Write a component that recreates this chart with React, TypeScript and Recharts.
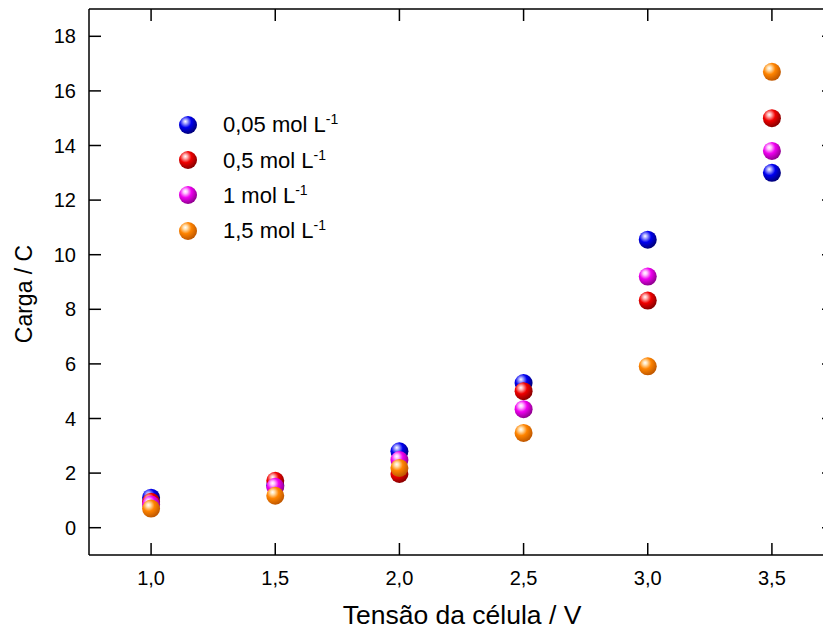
import { ScatterChart, Scatter, XAxis, YAxis, Legend } from 'recharts';

const voltage = [1.0, 1.5, 2.0, 2.5, 3.0, 3.5];
const c005 = [1.1, 1.55, 2.8, 5.3, 10.55, 13.0];
const c05 = [0.95, 1.72, 1.97, 5.0, 8.32, 15.0];
const c1 = [0.85, 1.5, 2.48, 4.34, 9.2, 13.8];
const c15 = [0.7, 1.17, 2.19, 3.47, 5.91, 16.7];

const xTicks = [1.0, 1.5, 2.0, 2.5, 3.0, 3.5];
const yTicks = [0, 2, 4, 6, 8, 10, 12, 14, 16, 18];

const series = [
  { id: 'blue', label: '0,05 mol L', values: c005, light: '#a8a8ff', color: '#0000f0', dark: '#00007a' },
  { id: 'red', label: '0,5 mol L', values: c05, light: '#ffb0b0', color: '#f00000', dark: '#8a0000' },
  { id: 'mag', label: '1 mol L', values: c1, light: '#ffc0ff', color: '#f000f0', dark: '#900090' },
  { id: 'orange', label: '1,5 mol L', values: c15, light: '#ffe0b0', color: '#ff8400', dark: '#c05800' },
];

const FONT = '"Liberation Sans", Arial, sans-serif';
const R = 9;
const TICK = 12; // inward tick length

function Grad({ s, prefix }: { s: (typeof series)[number]; prefix: string }) {
  return (
    <radialGradient id={`${prefix}-${s.id}`} cx="0.38" cy="0.35" r="0.65" fx="0.35" fy="0.3">
      <stop offset="0%" stopColor="#ffffff" />
      <stop offset="18%" stopColor={s.light} />
      <stop offset="50%" stopColor={s.color} />
      <stop offset="100%" stopColor={s.dark} />
    </radialGradient>
  );
}

const fmt = (v: number) => v.toFixed(1).replace('.', ',');

// tick text: recharts puts x/y at the inner end of the (negative size) tick line
const BottomTick = (props: any) => {
  const { x, y, payload } = props;
  return (
    <text x={x} y={y + TICK + 30} textAnchor="middle" fontSize={20} fontFamily={FONT} fill="#000">
      {fmt(payload.value)}
    </text>
  );
};

const LeftTick = (props: any) => {
  const { x, y, payload } = props;
  return (
    <text x={x - TICK - 13} y={y + 7} textAnchor="end" fontSize={20} fontFamily={FONT} fill="#000">
      {payload.value}
    </text>
  );
};

const NoLabel = () => <g />;

const lineStyle = { stroke: '#000', strokeWidth: 1.5 };

function LegendBox() {
  return (
    <div style={{ fontFamily: FONT, fontSize: 22, color: '#000', lineHeight: 1 }}>
      {series.map((s) => (
        <div key={s.id} style={{ display: 'flex', alignItems: 'center', height: 35.3 }}>
          <svg width={18} height={18} style={{ marginRight: 26 }}>
            <defs>
              <Grad s={s} prefix="lg" />
            </defs>
            <circle cx={9} cy={9} r={R} fill={`url(#lg-${s.id})`} />
          </svg>
          <span>
            {s.label}
            <sup style={{ fontSize: 14 }}>-1</sup>
          </span>
        </div>
      ))}
    </div>
  );
}

export default function App() {
  const data = series.map((s) => s.values.map((v, i) => ({ x: voltage[i], y: v })));

  return (
    <div style={{ position: 'absolute', left: 0, top: 0, width: 823, height: 632, overflow: 'hidden', background: '#fff' }}>
      <ScatterChart width={840} height={632} margin={{ top: 8, right: 5, left: 0, bottom: 0 }}>
        <defs>
          {series.map((s) => (
            <Grad key={s.id} s={s} prefix="g" />
          ))}
        </defs>
        <XAxis
          type="number"
          dataKey="x"
          domain={[0.75, 3.75]}
          ticks={xTicks}
          allowDataOverflow
          height={77}
          tickSize={-TICK}
          tickMargin={0}
          tickLine={lineStyle}
          axisLine={lineStyle}
          tick={BottomTick}
          interval={0}
          label={{
            content: () => (
              <text x={462} y={624} textAnchor="middle" fontSize={26.5} fontFamily={FONT} fill="#000">
                Tensão da célula / V
              </text>
            ),
          }}
        />
        <XAxis
          xAxisId="top"
          orientation="top"
          type="number"
          dataKey="x"
          domain={[0.75, 3.75]}
          ticks={xTicks}
          allowDataOverflow
          height={1}
          tickSize={-TICK}
          tickLine={lineStyle}
          axisLine={lineStyle}
          tick={NoLabel}
          interval={0}
        />
        <YAxis
          type="number"
          dataKey="y"
          domain={[-1, 19]}
          ticks={yTicks}
          allowDataOverflow
          width={89}
          tickSize={-TICK}
          tickMargin={0}
          tickLine={lineStyle}
          axisLine={lineStyle}
          tick={LeftTick}
          interval={0}
          label={{
            content: () => (
              <text
                x={32}
                y={294}
                transform="rotate(-90 32 294)"
                textAnchor="middle"
                fontSize={23}
                fontFamily={FONT}
                fill="#000"
              >
                Carga / C
              </text>
            ),
          }}
        />
        <YAxis
          yAxisId="right"
          orientation="right"
          type="number"
          dataKey="y"
          domain={[-1, 19]}
          ticks={yTicks}
          allowDataOverflow
          width={1}
          tickSize={-TICK}
          tickLine={lineStyle}
          axisLine={lineStyle}
          tick={NoLabel}
          interval={0}
        />
        <Legend
          layout="vertical"
          verticalAlign="middle"
          align="center"
          wrapperStyle={{ position: 'absolute', left: 179, top: 107, width: 220 }}
          content={() => <LegendBox />}
        />
        {/* invisible series so the top/right frame axes get a scale and draw their ticks */}
        <Scatter
          data={data[0]}
          xAxisId="top"
          yAxisId="right"
          isAnimationActive={false}
          legendType="none"
          shape={() => <g />}
        />
        {series.map((s, k) => (
          <Scatter
            key={s.id}
            name={s.label}
            data={data[k]}
            isAnimationActive={false}
            shape={(p: any) => <circle cx={p.cx} cy={p.cy} r={R} fill={`url(#g-${s.id})`} />}
          />
        ))}
      </ScatterChart>
    </div>
  );
}
